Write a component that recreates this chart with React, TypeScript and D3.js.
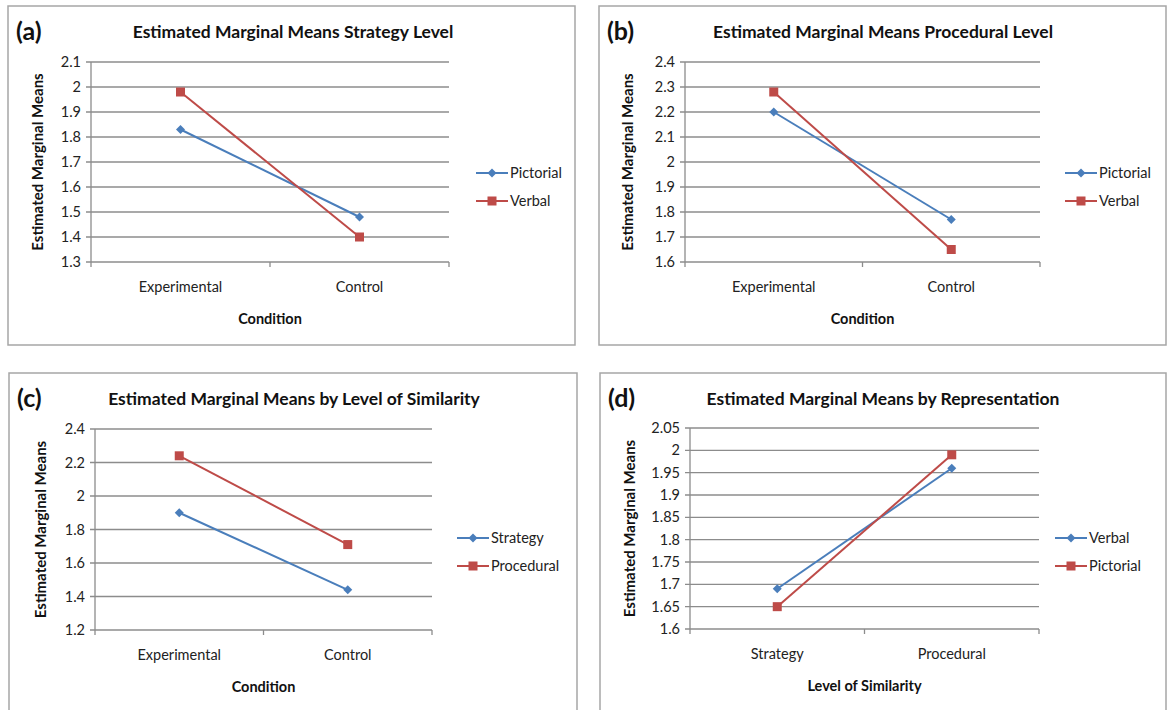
import React from "react";
import * as d3 from "d3";

const panelLetters = ["(a)", "(b)", "(c)", "(d)"];
const panelTitles = [
  "Estimated Marginal Means Strategy Level",
  "Estimated Marginal Means Procedural Level",
  "Estimated Marginal Means by Level of Similarity",
  "Estimated Marginal Means by Representation",
];
const yAxisTitle = "Estimated Marginal Means";
const xAxisTitles = ["Condition", "Condition", "Condition", "Level of Similarity"];

const conditionCategories = ["Experimental", "Control"];
const similarityCategories = ["Strategy", "Procedural"];

// Panel (a)
const aSeriesNames = ["Pictorial", "Verbal"];
const aPictorial = [1.83, 1.48];
const aVerbal = [1.98, 1.4];
const aTicks = [1.3, 1.4, 1.5, 1.6, 1.7, 1.8, 1.9, 2.0, 2.1];
const aTickLabels = ["1.3", "1.4", "1.5", "1.6", "1.7", "1.8", "1.9", "2", "2.1"];

// Panel (b)
const bSeriesNames = ["Pictorial", "Verbal"];
const bPictorial = [2.2, 1.77];
const bVerbal = [2.28, 1.65];
const bTicks = [1.6, 1.7, 1.8, 1.9, 2.0, 2.1, 2.2, 2.3, 2.4];
const bTickLabels = ["1.6", "1.7", "1.8", "1.9", "2", "2.1", "2.2", "2.3", "2.4"];

// Panel (c)
const cSeriesNames = ["Strategy", "Procedural"];
const cStrategy = [1.9, 1.44];
const cProcedural = [2.24, 1.71];
const cTicks = [1.2, 1.4, 1.6, 1.8, 2.0, 2.2, 2.4];
const cTickLabels = ["1.2", "1.4", "1.6", "1.8", "2", "2.2", "2.4"];

// Panel (d)
const dSeriesNames = ["Verbal", "Pictorial"];
const dVerbal = [1.69, 1.96];
const dPictorial = [1.65, 1.99];
const dTicks = [1.6, 1.65, 1.7, 1.75, 1.8, 1.85, 1.9, 1.95, 2.0, 2.05];
const dTickLabels = ["1.6", "1.65", "1.7", "1.75", "1.8", "1.85", "1.9", "1.95", "2", "2.05"];

const BLUE = "#4a7ebb";
const RED = "#be4b48";
const GRID = "#8c8c8c";
const FONT = "Lato, 'Open Sans', sans-serif";

type PanelCfg = {
  box: { x: number; y: number; w: number; h: number };
  plot: { l: number; r: number; t: number; b: number };
  letter: string;
  title: string;
  titleX: number;
  xTitle: string;
  yLabelX: number;
  categories: string[];
  ticks: number[];
  tickLabels: string[];
  names: string[];
  series: number[][];
  legendX: number;
  legendY: number;
};

function Marker({ kind, x, y, color }: { kind: number; x: number; y: number; color: string }) {
  if (kind === 0) {
    const s = 4.5;
    return (
      <path
        d={`M${x},${y - s}L${x + s},${y}L${x},${y + s}L${x - s},${y}Z`}
        fill={color}
      />
    );
  }
  const s = 4.5;
  return <rect x={x - s} y={y - s} width={2 * s} height={2 * s} fill={color} />;
}

function Panel({ cfg }: { cfg: PanelCfg }) {
  const { box, plot } = cfg;
  const x = d3.scaleBand<string>().domain(cfg.categories).range([plot.l, plot.r]).padding(0);
  const y = d3
    .scaleLinear()
    .domain([cfg.ticks[0], cfg.ticks[cfg.ticks.length - 1]])
    .range([plot.b, plot.t]);
  const colors = [BLUE, RED];
  const line = d3
    .line<number>()
    .x((_, i) => (x(cfg.categories[i]) as number) + x.bandwidth() / 2)
    .y((v) => y(v));
  const boundaries = [plot.l, ...cfg.categories.map((c) => (x(c) as number) + x.bandwidth())];
  return (
    <g>
      <rect
        x={box.x}
        y={box.y}
        width={box.w}
        height={box.h}
        fill="#fff"
        stroke="#a6a6a6"
        strokeWidth={1.5}
      />
      <text x={box.x + 8} y={box.y + 34} fontFamily={FONT} fontWeight="bold" fontSize={25} fill="#111">
        {cfg.letter}
      </text>
      <text
        x={cfg.titleX}
        y={box.y + 32}
        textAnchor="middle"
        fontFamily={FONT}
        fontWeight="bold"
        fontSize={17.5}
        fill="#111"
      >
        {cfg.title}
      </text>
      {cfg.ticks.map((t, i) => (
        <g key={i}>
          <line x1={plot.l - 5} x2={plot.r} y1={y(t)} y2={y(t)} stroke={GRID} strokeWidth={1.3} />
          <text
            x={plot.l - 10}
            y={y(t)}
            dy="0.35em"
            textAnchor="end"
            fontFamily={FONT}
            fontSize={14.5}
            fill="#222"
          >
            {cfg.tickLabels[i]}
          </text>
        </g>
      ))}
      <line x1={plot.l} x2={plot.l} y1={plot.t} y2={plot.b} stroke={GRID} strokeWidth={1.3} />
      {boundaries.map((bx, i) => (
        <line key={i} x1={bx} x2={bx} y1={plot.b} y2={plot.b + 5} stroke={GRID} strokeWidth={1.3} />
      ))}
      {cfg.categories.map((c) => (
        <text
          key={c}
          x={(x(c) as number) + x.bandwidth() / 2}
          y={plot.b + 30}
          textAnchor="middle"
          fontFamily={FONT}
          fontSize={14.5}
          fill="#222"
        >
          {c}
        </text>
      ))}
      <text
        x={(plot.l + plot.r) / 2}
        y={plot.b + 62}
        textAnchor="middle"
        fontFamily={FONT}
        fontWeight="bold"
        fontSize={14.5}
        fill="#111"
      >
        {cfg.xTitle}
      </text>
      <text
        transform={`translate(${cfg.yLabelX},${(plot.t + plot.b) / 2}) rotate(-90)`}
        textAnchor="middle"
        fontFamily={FONT}
        fontWeight="bold"
        fontSize={15}
        fill="#111"
      >
        {yAxisTitle}
      </text>
      {cfg.series.map((s, si) => (
        <g key={si}>
          <path d={line(s) || ""} fill="none" stroke={colors[si]} strokeWidth={2} />
          {s.map((v, i) => (
            <Marker
              key={i}
              kind={si}
              x={(x(cfg.categories[i]) as number) + x.bandwidth() / 2}
              y={y(v)}
              color={colors[si]}
            />
          ))}
        </g>
      ))}
      {cfg.names.map((n, si) => {
        const ly = cfg.legendY + si * 28;
        return (
          <g key={n}>
            <line x1={cfg.legendX} x2={cfg.legendX + 32} y1={ly} y2={ly} stroke={colors[si]} strokeWidth={2} />
            <Marker kind={si} x={cfg.legendX + 16} y={ly} color={colors[si]} />
            <text x={cfg.legendX + 34} y={ly} dy="0.35em" fontFamily={FONT} fontSize={14.5} fill="#222">
              {n}
            </text>
          </g>
        );
      })}
    </g>
  );
}

const panels: PanelCfg[] = [
  {
    box: { x: 8, y: 6, w: 567, h: 339 },
    plot: { l: 91, r: 449, t: 62, b: 262 },
    letter: panelLetters[0],
    title: panelTitles[0],
    titleX: 293,
    xTitle: xAxisTitles[0],
    yLabelX: 43,
    categories: conditionCategories,
    ticks: aTicks,
    tickLabels: aTickLabels,
    names: aSeriesNames,
    series: [aPictorial, aVerbal],
    legendX: 476,
    legendY: 173,
  },
  {
    box: { x: 599, y: 6, w: 567, h: 339 },
    plot: { l: 685, r: 1040, t: 62, b: 262 },
    letter: panelLetters[1],
    title: panelTitles[1],
    titleX: 883,
    xTitle: xAxisTitles[1],
    yLabelX: 633,
    categories: conditionCategories,
    ticks: bTicks,
    tickLabels: bTickLabels,
    names: bSeriesNames,
    series: [bPictorial, bVerbal],
    legendX: 1065,
    legendY: 173,
  },
  {
    box: { x: 9, y: 373, w: 568, h: 345 },
    plot: { l: 95, r: 432, t: 429, b: 630 },
    letter: panelLetters[2],
    title: panelTitles[2],
    titleX: 294,
    xTitle: xAxisTitles[2],
    yLabelX: 46,
    categories: conditionCategories,
    ticks: cTicks,
    tickLabels: cTickLabels,
    names: cSeriesNames,
    series: [cStrategy, cProcedural],
    legendX: 457,
    legendY: 538,
  },
  {
    box: { x: 600, y: 373, w: 566, h: 345 },
    plot: { l: 690, r: 1039, t: 428, b: 629 },
    letter: panelLetters[3],
    title: panelTitles[3],
    titleX: 883,
    xTitle: xAxisTitles[3],
    yLabelX: 635,
    categories: similarityCategories,
    ticks: dTicks,
    tickLabels: dTickLabels,
    names: dSeriesNames,
    series: [dVerbal, dPictorial],
    legendX: 1055,
    legendY: 538,
  },
];

export default function App() {
  return (
    <svg
      width={1173}
      height={710}
      style={{ position: "absolute", left: 0, top: 0, background: "#fff" }}
    >
      <rect x={0} y={0} width={1173} height={710} fill="#fff" />
      {panels.map((p, i) => (
        <Panel key={i} cfg={p} />
      ))}
    </svg>
  );
}
